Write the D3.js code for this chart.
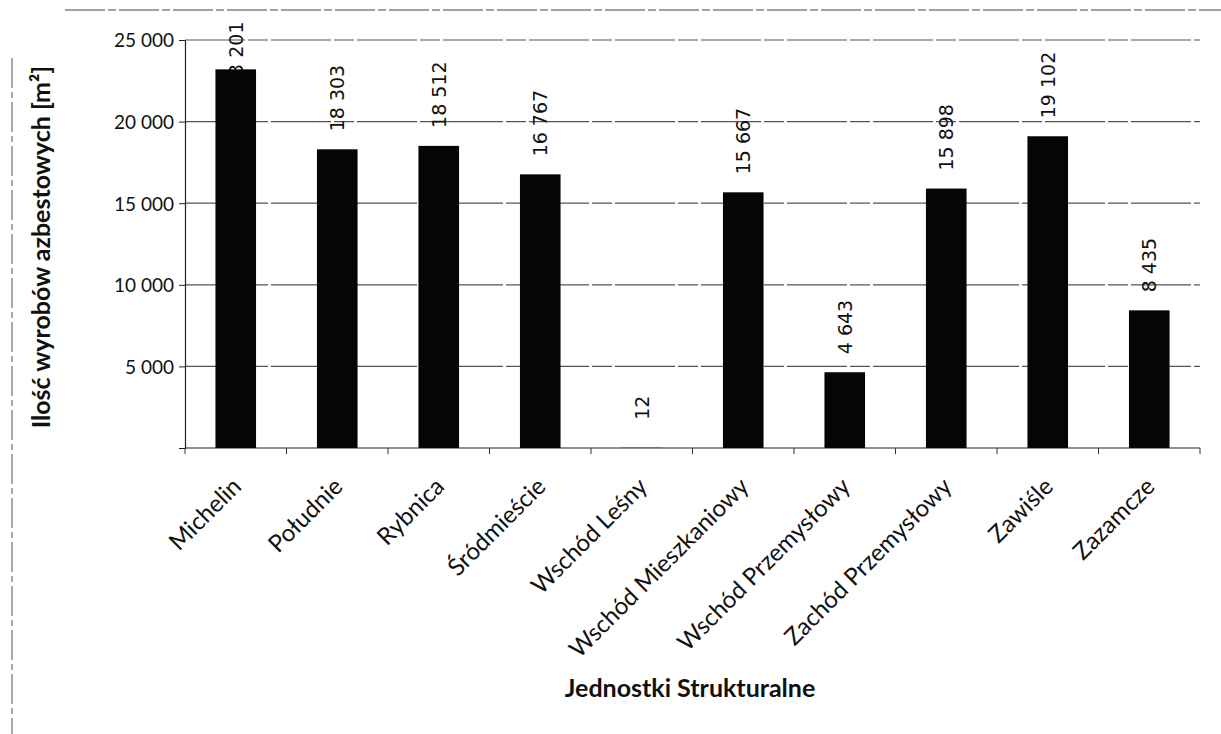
<!DOCTYPE html>
<html>
<head>
<meta charset="utf-8">
<script src="https://cdn.jsdelivr.net/npm/d3@7"></script>
<style>
body { margin: 0; background: #fff; }
</style>
</head>
<body>
<div class="svg-container"></div>
<script>
// data
var units = ["Michelin", "Południe", "Rybnica", "Śródmieście", "Wschód Leśny",
             "Wschód Mieszkaniowy", "Wschód Przemysłowy", "Zachód Przemysłowy", "Zawiśle", "Zazamcze"];
var area = [23201, 18303, 18512, 16767, 12, 15667, 4643, 15898, 19102, 8435];
var yTicks = [5000, 10000, 15000, 20000, 25000];

var W = 1221, H = 734;
var mLeft = 185, mRight = 1200, mTop = 40, mBottom = 448;

var svg1 = d3.select("body").select(".svg-container").append("svg")
    .attr("width", W)
    .attr("height", H);

// scanned frame around the chart
svg1.append("line").attr("x1", 65).attr("x2", W).attr("y1", 10).attr("y2", 10)
    .attr("stroke", "#444").attr("stroke-width", 1).attr("stroke-dasharray", "40,3,8,3");
svg1.append("line").attr("x1", 12).attr("x2", 12).attr("y1", 58).attr("y2", H)
    .attr("stroke", "#555").attr("stroke-width", 1).attr("stroke-dasharray", "30,4,6,4");

var x = d3.scaleBand().domain(units).range([mLeft, mRight]).paddingInner(0.6).paddingOuter(0.3);
var y = d3.scaleLinear().domain([0, 25000]).range([mBottom, mTop]);

var fmt = function(v) { return d3.format(",")(v).replace(/,/g, " "); };

// grid lines
svg1.append("g").selectAll("line").data(yTicks).enter().append("line")
    .attr("x1", mLeft).attr("x2", mRight)
    .attr("y1", function(d) { return y(d); })
    .attr("y2", function(d) { return y(d); })
    .attr("stroke", "#555")
    .attr("stroke-width", 1.2)
    .attr("stroke-dasharray", "60,3,20,3");

// y axis
var yAxis = d3.axisLeft(y).tickValues(yTicks).tickSize(6).tickFormat(fmt);
var gy = svg1.append("g").attr("transform", "translate(" + mLeft + ",0)").call(yAxis);
gy.select(".domain").attr("stroke", "#222").attr("stroke-width", 1.2);
gy.selectAll(".tick line").attr("stroke", "#222");
gy.selectAll("text").attr("font-family", "Lato").attr("font-size", "19px")
    .attr("fill", "#111").attr("dx", "-2").attr("dy", "0.36em");

// x axis with ticks between categories
var gx = svg1.append("g");
gx.append("line").attr("x1", mLeft).attr("x2", mRight).attr("y1", mBottom).attr("y2", mBottom)
    .attr("stroke", "#222").attr("stroke-width", 1.2);
gx.selectAll(".tk").data(d3.range(units.length + 1)).enter().append("line")
    .attr("class", "tk")
    .attr("x1", function(i) { return mLeft + i * (mRight - mLeft) / units.length; })
    .attr("x2", function(i) { return mLeft + i * (mRight - mLeft) / units.length; })
    .attr("y1", mBottom).attr("y2", mBottom + 6)
    .attr("stroke", "#333");

gx.selectAll(".lbl").data(units).enter().append("text")
    .attr("class", "lbl")
    .attr("transform", function(d) {
        return "translate(" + (x(d) + x.bandwidth() / 2 + 7) + "," + (mBottom + 40) + ") rotate(-45)";
    })
    .attr("text-anchor", "end")
    .attr("font-family", "Lato")
    .attr("font-size", "24px")
    .attr("fill", "#111")
    .text(function(d) { return d; });

// value labels (drawn first; the top one is pushed down into its bar like in the scan)
svg1.append("g")
    .selectAll("text").data(area).enter().append("text")
    .attr("transform", function(d, i) {
        var off = d < 100 ? 28 : 18;
        var yy = Math.max(y(d) - off, 88);
        return "translate(" + (x(units[i]) + x.bandwidth() / 2 + 7) + "," + yy + ") rotate(-90)";
    })
    .attr("text-anchor", "start")
    .attr("font-family", "DejaVu Sans")
    .attr("font-size", "19px")
    .attr("fill", "#111")
    .text(function(d) { return fmt(d); });

// bars
svg1.append("g").selectAll("rect").data(area).enter().append("rect")
    .attr("x", function(d, i) { return x(units[i]); })
    .attr("y", function(d) { return y(d); })
    .attr("width", x.bandwidth())
    .attr("height", function(d) { return mBottom - y(d); })
    .attr("fill", "#050505");

// axis titles
svg1.append("text")
    .attr("transform", "translate(50," + ((mTop + mBottom) / 2 + 3) + ") rotate(-90)")
    .attr("text-anchor", "middle")
    .attr("font-family", "Lato")
    .attr("font-weight", "bold")
    .attr("font-size", "25px")
    .attr("fill", "#111")
    .text("Ilość wyrobów azbestowych [m²]");

svg1.append("text")
    .attr("x", 690)
    .attr("y", 697)
    .attr("text-anchor", "middle")
    .attr("font-family", "Lato")
    .attr("font-weight", "bold")
    .attr("font-size", "25px")
    .attr("fill", "#111")
    .text("Jednostki Strukturalne");
</script>
</body>
</html>
